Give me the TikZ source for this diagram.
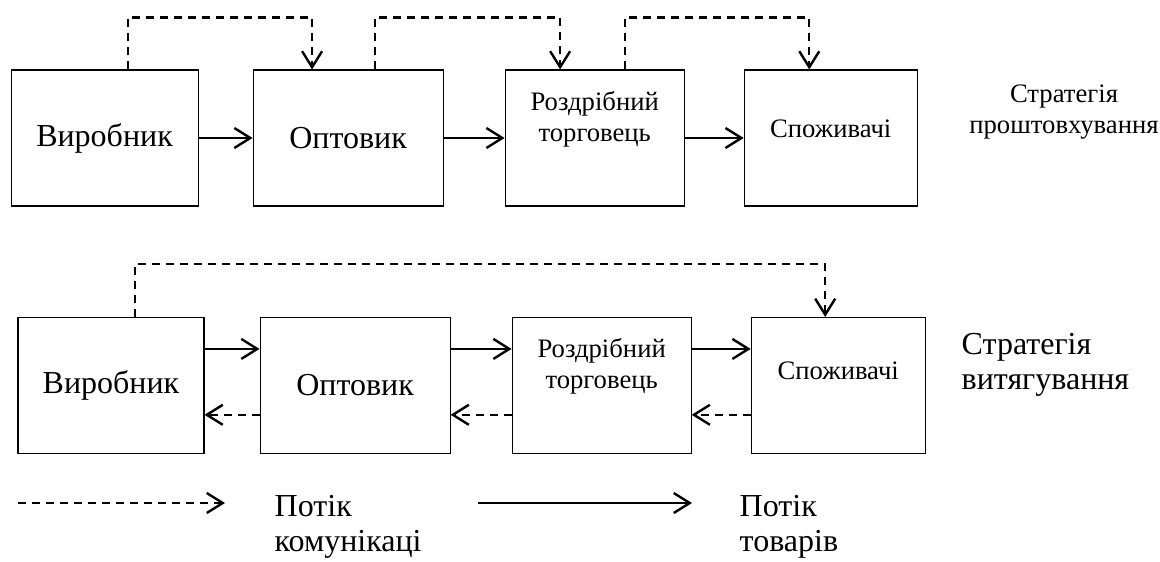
\documentclass[tikz,border=0pt]{standalone}
\usepackage{fontspec}
\setmainfont{Liberation Serif}
\usetikzlibrary{positioning,arrows.meta}

\begin{document}
\begin{tikzpicture}[
    box/.style={draw, line width=0.8pt, rectangle, minimum height=102pt, inner sep=0pt},
    goods/.style={-{Straight Barb[length=12pt,width=15pt]}, line width=1.8pt},
    comm/.style={goods, dash pattern=on 6pt off 4.5pt},
    big/.style={font=\fontsize{24}{26.25}\selectfont},
    mid/.style={font=\fontsize{20}{23}\selectfont}
]
    \useasboundingbox (0,0) rectangle (870pt,-420.75pt);

    \node (prod1) [box, big, minimum width=140.25pt] at (78.4pt,-103.5pt) {Виробник};
    \node (whole1) [box, big, minimum width=142.5pt, right=40.5pt of prod1] {Оптовик};
    \node (retail1) [box, minimum width=134.25pt, right=45.75pt of whole1,
        label={[mid, align=center, below=13pt]north:Роздрібний\\торговець}] {};
    \node (cons1) [box, minimum width=129.75pt, right=44.25pt of retail1,
        label={[mid, below=34pt]north:Споживачі}] {};
    \node (push) [mid, align=center] at (798pt,-84pt) {Стратегія\\проштовхування};

    \draw[goods] (prod1) -- (whole1);
    \draw[goods] (whole1) -- (retail1);
    \draw[goods] (retail1) -- (cons1);
    \draw[comm] ([xshift=17.6pt]prod1.north) -- ++(0,39pt) -| ([xshift=-27pt]whole1.north);
    \draw[comm] ([xshift=20.25pt]whole1.north) -- ++(0,39pt) -| ([xshift=-25.9pt]retail1.north);
    \draw[comm] ([xshift=22.9pt]retail1.north) -- ++(0,39pt) -| ([xshift=-16.1pt]cons1.north);

    \node (prod2) [box, big, minimum width=139.5pt] at (83.25pt,-289.1pt) {Виробник};
    \node (whole2) [box, big, minimum width=142.5pt, right=41.25pt of prod2] {Оптовик};
    \node (retail2) [box, minimum width=134.25pt, right=45.75pt of whole2,
        label={[mid, align=center, below=12.5pt]north:Роздрібний\\торговець}] {};
    \node (cons2) [box, minimum width=130.5pt, right=44.25pt of retail2,
        label={[mid, below=30pt]north:Споживачі}] {};
    \node (pull) [big, align=left, anchor=west] at (717.75pt,-273.4pt) {Стратегія\\витягування};

    \draw[goods] ([yshift=27.4pt]prod2.east) -- ([yshift=27.4pt]whole2.west);
    \draw[goods] ([yshift=27.4pt]whole2.east) -- ([yshift=27.4pt]retail2.west);
    \draw[goods] ([yshift=27.4pt]retail2.east) -- ([yshift=27.4pt]cons2.west);
    \draw[comm] ([yshift=-22pt]whole2.west) -- ([yshift=-22pt]prod2.east);
    \draw[comm] ([yshift=-22pt]retail2.west) -- ([yshift=-22pt]whole2.east);
    \draw[comm] ([yshift=-22pt]cons2.west) -- ([yshift=-22pt]retail2.east);
    \draw[comm] ([xshift=18pt]prod2.north) -- ++(0,39.75pt) -| ([xshift=-9.75pt]cons2.north);

    \coordinate (commfrom) at (13.5pt,-377.25pt);
    \coordinate (commto) at (168.75pt,-377.25pt);
    \node (commtext) [big, align=left, anchor=west] at (202.5pt,-395pt) {Потік\\комунікаці};
    \coordinate (goodsfrom) at (358.5pt,-377.25pt);
    \coordinate (goodsto) at (519pt,-377.25pt);
    \node (goodstext) [big, align=left, anchor=west] at (551.25pt,-395pt) {Потік\\товарів};

    \draw[comm] (commfrom) -- (commto);
    \draw[goods] (goodsfrom) -- (goodsto);
\end{tikzpicture}
\end{document}
